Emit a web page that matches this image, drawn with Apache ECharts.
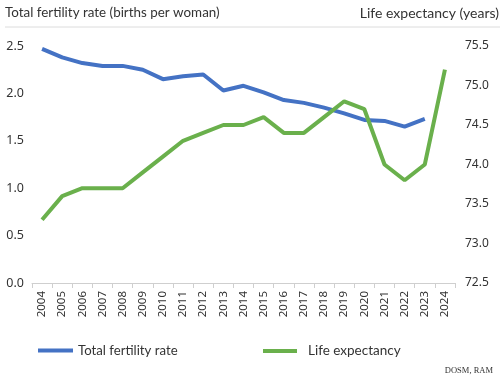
<!DOCTYPE html>
<html><head><meta charset="utf-8">
<script src="https://cdn.jsdelivr.net/npm/echarts@6/dist/echarts.min.js"></script>
<style>html,body{margin:0;padding:0;background:#fff}#c{width:500px;height:377px}</style>
</head><body><div id="c"></div>
<script>
const years = ['2004','2005','2006','2007','2008','2009','2010','2011','2012','2013','2014','2015','2016','2017','2018','2019','2020','2021','2022','2023','2024'];
const fertility = [2.47, 2.38, 2.32, 2.29, 2.29, 2.25, 2.15, 2.18, 2.20, 2.03, 2.08, 2.01, 1.93, 1.90, 1.85, 1.79, 1.72, 1.71, 1.65, 1.73, null];
const lifeExp = [73.3, 73.6, 73.7, 73.7, 73.7, 73.9, 74.1, 74.3, 74.4, 74.5, 74.5, 74.6, 74.4, 74.4, 74.6, 74.8, 74.7, 74.0, 73.8, 74.0, 75.2];
const leftTicks = {min: 0, max: 2.5, interval: 0.5};
const rightTicks = {min: 72.5, max: 75.5, interval: 0.5};
const FONT = 'Lato';
const chart = echarts.init(document.getElementById('c'));
chart.setOption({
  animation: false,
  textStyle: {fontFamily: FONT},
  grid: {left: 32, right: 45, top: 46, bottom: 94},
  graphic: [
    {type: 'text', left: 5, top: 6, style: {text: 'Total fertility rate (births per woman)', font: '13.4px Lato', fill: '#333'}},
    {type: 'text', right: 1, top: 6, style: {text: 'Life expectancy (years)', font: '14px Lato', fill: '#333'}},
    {type: 'line', shape: {x1: 5, y1: 27, x2: 500, y2: 27}, style: {stroke: '#dcdcdc', lineWidth: 1}},
    {type: 'text', right: 7, bottom: 2, style: {text: 'DOSM, RAM', font: '8.5px "Liberation Serif"', fill: '#333'}}
  ],
  legend: [
    {left: 33, top: 339, icon: 'rect', itemWidth: 35, itemHeight: 4, itemGap: 0, data: ['Total fertility rate'], textStyle: {fontSize: 13.2, color: '#333', fontFamily: FONT}},
    {left: 258, top: 339, icon: 'rect', itemWidth: 34, itemHeight: 4, itemGap: 0, data: ['Life expectancy'], textStyle: {fontSize: 13.5, color: '#333', fontFamily: FONT, padding: [0,0,0,6]}}
  ],
  xAxis: {
    type: 'category', data: years, boundaryGap: true,
    axisLine: {lineStyle: {color: '#cfcfcf'}},
    axisTick: {show: true, lineStyle: {color: '#cfcfcf'}, length: 5},
    axisLabel: {rotate: 90, fontSize: 11.5, color: '#333', margin: 8, interval: 0, fontFamily: 'Noto Sans'}
  },
  yAxis: [
    {type: 'value', min: leftTicks.min, max: leftTicks.max, interval: leftTicks.interval, position: 'left',
     splitLine: {show: false}, axisLine: {show: false}, axisTick: {show: false},
     axisLabel: {fontSize: 12.5, color: '#333', margin: 8, fontFamily: 'Noto Sans', formatter: v => v.toFixed(1)}},
    {type: 'value', min: rightTicks.min, max: rightTicks.max, interval: rightTicks.interval, position: 'right',
     splitLine: {show: false}, axisLine: {show: false}, axisTick: {show: false},
     axisLabel: {fontSize: 12, color: '#333', margin: 10, fontFamily: 'Noto Sans', formatter: v => v.toFixed(1)}}
  ],
  series: [
    {name: 'Total fertility rate', type: 'line', yAxisIndex: 0, data: fertility, symbol: 'none',
     lineStyle: {color: '#4472c4', width: 4}, itemStyle: {color: '#4472c4'}},
    {name: 'Life expectancy', type: 'line', yAxisIndex: 1, data: lifeExp, symbol: 'none',
     lineStyle: {color: '#6ab04c', width: 4}, itemStyle: {color: '#6ab04c'}}
  ]
});
</script></body></html>
